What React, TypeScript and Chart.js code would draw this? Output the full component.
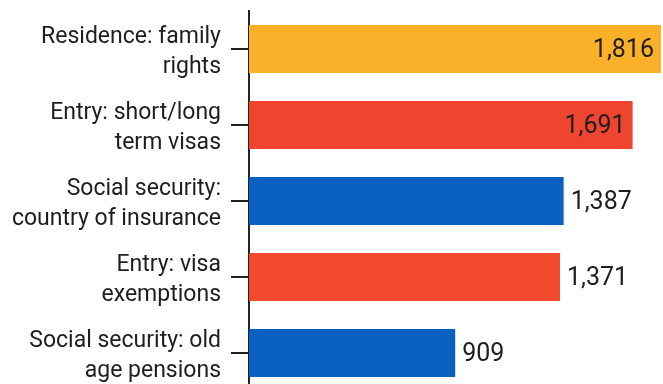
import React, { useEffect, useRef } from 'react';
import { Chart, registerables } from 'chart.js';

Chart.register(...registerables);

const categories: string[][] = [
  ['Residence: family', 'rights'],
  ['Entry: short/long', 'term visas'],
  ['Social security:', 'country of insurance'],
  ['Entry: visa', 'exemptions'],
  ['Social security: old', 'age pensions'],
];
const values: number[] = [1816, 1691, 1387, 1371, 909];
const barColors: string[] = ['#FBB02A', '#EE4430', '#0861C1', '#F24A2C', '#0861C1'];
const axisMax = 1825;

const valueLabels = {
  id: 'valueLabels',
  afterDatasetsDraw(chart: any) {
    const ctx = chart.ctx;
    const meta = chart.getDatasetMeta(0);
    const area = chart.chartArea;
    ctx.save();
    ctx.font = '25px Roboto';
    ctx.textBaseline = 'middle';
    ctx.fillStyle = '#1e1e1e';
    meta.data.forEach((bar: any, i: number) => {
      const text = values[i].toLocaleString('en-US');
      const w = ctx.measureText(text).width;
      const gap = 7;
      if (bar.x + gap + w > area.right) {
        ctx.textAlign = 'right';
        ctx.fillText(text, bar.x - gap, bar.y + 2);
      } else {
        ctx.textAlign = 'left';
        ctx.fillText(text, bar.x + gap, bar.y + 2);
      }
    });
    ctx.restore();
  },
};

export default function App() {
  const ref = useRef<HTMLCanvasElement | null>(null);
  useEffect(() => {
    document.body.style.margin = '0';
    const canvas = ref.current;
    if (!canvas) return;
    const chart = new Chart(canvas, {
      type: 'bar',
      data: {
        labels: categories,
        datasets: [
          {
            data: values,
            backgroundColor: barColors,
            borderWidth: 0,
            barPercentage: 0.63,
            categoryPercentage: 1,
          },
        ],
      },
      options: {
        indexAxis: 'y',
        animation: false,
        responsive: false,
        maintainAspectRatio: false,
        layout: { padding: { top: 11, bottom: 4, left: 0, right: 0 } },
        plugins: { legend: { display: false }, tooltip: { enabled: false } },
        scales: {
          x: { display: false, min: 0, max: axisMax },
          y: {
            type: 'category',
            offset: true,
            grid: {
              display: true,
              drawOnChartArea: false,
              offset: false,
              tickLength: 18,
              color: '#222',
              lineWidth: 2,
            },
            border: { display: true, color: '#222', width: 2 },
            ticks: {
              color: '#1e1e1e',
              padding: 10,
              labelOffset: 3,
              font: { family: 'Roboto', size: 23, lineHeight: 1.29 },
            },
            afterFit(scale: any) {
              scale.width = 249;
              scale.paddingTop = 0;
              scale.paddingBottom = 0;
            },
          },
        },
      },
      plugins: [valueLabels],
    });
    return () => chart.destroy();
  }, []);
  return (
    <div
      style={{
        position: 'fixed',
        left: 0,
        top: 0,
        width: 663,
        height: 384,
        overflow: 'hidden',
        background: '#fff',
      }}
    >
      <canvas ref={ref} width={663} height={395} style={{ display: 'block' }} />
    </div>
  );
}
